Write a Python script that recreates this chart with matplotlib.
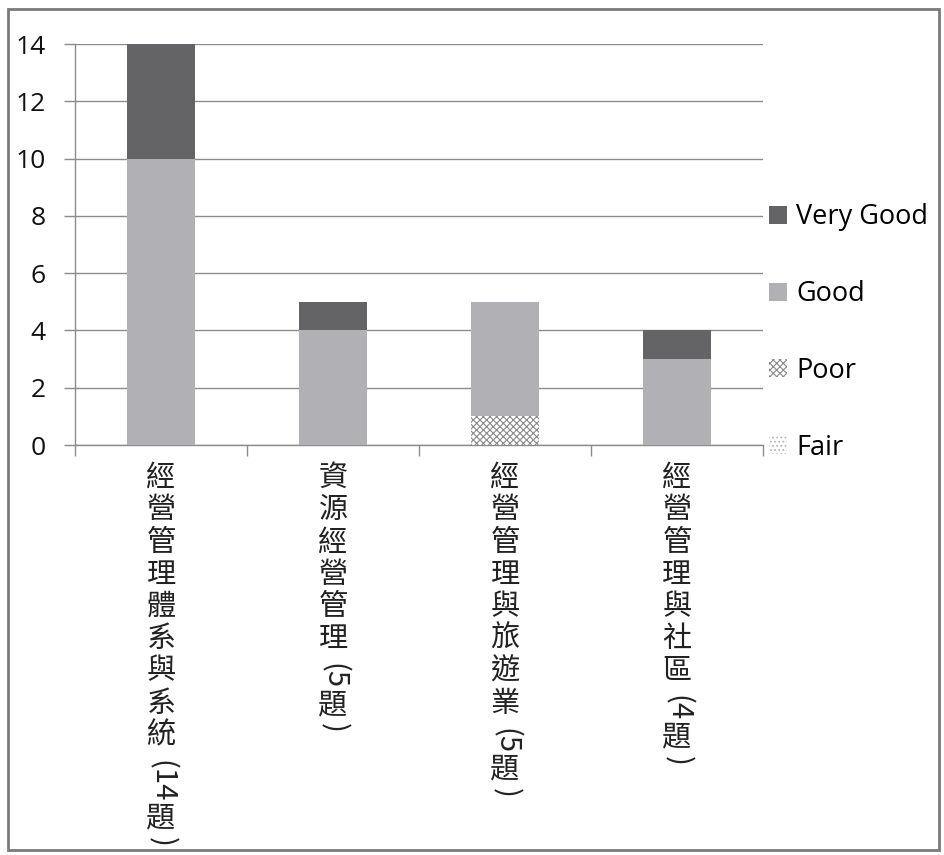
import matplotlib
matplotlib.use("Agg")
import matplotlib.pyplot as plt
from matplotlib.patches import Patch, Rectangle
import numpy as np

plt.rcParams["hatch.linewidth"] = 0.8

categories = ["經營管理體系與系統 (14題)", "資源經營管理 (5題)",
              "經營管理與旅遊業 (5題)", "經營管理與社區 (4題)"]
fair = [0, 0, 0, 0]
poor = [0, 0, 1, 0]
good = [10, 4, 4, 3]
very_good = [4, 1, 0, 1]
yticks = [0, 2, 4, 6, 8, 10, 12, 14]

CJK = ["Noto Sans CJK TC", "DejaVu Sans"]
NUM = ["Open Sans", "DejaVu Sans"]
LEG = ["Open Sans", "DejaVu Sans"]

fig = plt.figure(figsize=(9.45, 8.55), dpi=100)
ax = fig.add_axes([0.0794, 0.4795, 0.7280, 0.4690])

x = np.arange(len(categories))
w = 0.40
c_vg, c_g = "#646466", "#b1b1b5"
bottom = np.zeros(len(x))
ax.bar(x, fair, w, bottom=bottom, facecolor="white", edgecolor="#b8b8b8",
       hatch="....", lw=0, zorder=3)
bottom += fair
ax.bar(x, poor, w, bottom=bottom, facecolor="white", edgecolor="#8a8a8a",
       hatch="xxxxx", lw=0, zorder=3)
bottom += poor
ax.bar(x, good, w, bottom=bottom, color=c_g, lw=0, zorder=3)
bottom += good
ax.bar(x, very_good, w, bottom=bottom, color=c_vg, lw=0, zorder=3)

ax.set_xlim(-0.5, 3.5)
ax.set_ylim(0, 14)
ax.set_yticks(yticks)
ax.set_yticklabels([str(t) for t in yticks], family=NUM, fontsize=19, color="#111")
ax.yaxis.grid(True, color="#8c8c8c", lw=1, zorder=0)
ax.tick_params(axis="y", length=8, width=1, color="#8c8c8c", pad=13)
ax.set_xticks(np.arange(-0.5, 4, 1))
ax.set_xticklabels([])
ax.tick_params(axis="x", length=8, width=1, color="#8c8c8c")
for s in ["top", "right"]:
    ax.spines[s].set_visible(False)
for s in ["left", "bottom"]:
    ax.spines[s].set_color("#8c8c8c")
    ax.spines[s].set_linewidth(1)

# vertical category labels: CJK upright, latin runs rotated
fs = 21
pitch = 23.2
for i, lab in enumerate(categories):
    runs = []
    for ch in lab:
        if ord(ch) > 0x2E80:
            runs.append((ch, True))
        elif runs and not runs[-1][1]:
            runs[-1] = (runs[-1][0] + ch, False)
        else:
            runs.append((ch, False))
    y = 13
    for txt, upright in runs:
        if upright:
            ax.annotate(txt, xy=(i, 0), xycoords="data", xytext=(0, -y),
                        textcoords="offset points", ha="center", va="top",
                        fontsize=fs, family=CJK, color="#222")
            y += pitch
        else:
            adv = 0
            for ch in txt:
                adv += {"(": 0.42, ")": 0.42, " ": 0.15}.get(ch, 0.58) * fs
            ax.annotate(txt.strip(), xy=(i, 0), xycoords="data",
                        xytext=(0, -(y + adv / 2 + (0.1 * fs if txt.startswith(" ") else 0))),
                        textcoords="offset points", ha="center", va="center",
                        rotation=-90, fontsize=fs, family=CJK, color="#222")
            y += adv

handles = [Patch(facecolor=c_vg, lw=0),
           Patch(facecolor=c_g, lw=0),
           Patch(facecolor="white", edgecolor="#8a8a8a", hatch="xxxxx", lw=0),
           Patch(facecolor="white", edgecolor="#b8b8b8", hatch="....", lw=0)]
fig.legend(handles, ["Very Good", "Good", "Poor", "Fair"],
           loc="center left", bbox_to_anchor=(0.788, 0.611), frameon=False,
           prop={"family": LEG, "size": 19.5}, handlelength=0.65, handleheight=0.65,
           handletextpad=0.35, labelspacing=1.8)

fig.patches.append(Rectangle((0.008, 0.006), 0.986, 0.983, transform=fig.transFigure,
                             fill=False, edgecolor="#7a7a7a", lw=2))

fig.savefig("out.png", dpi=100)
